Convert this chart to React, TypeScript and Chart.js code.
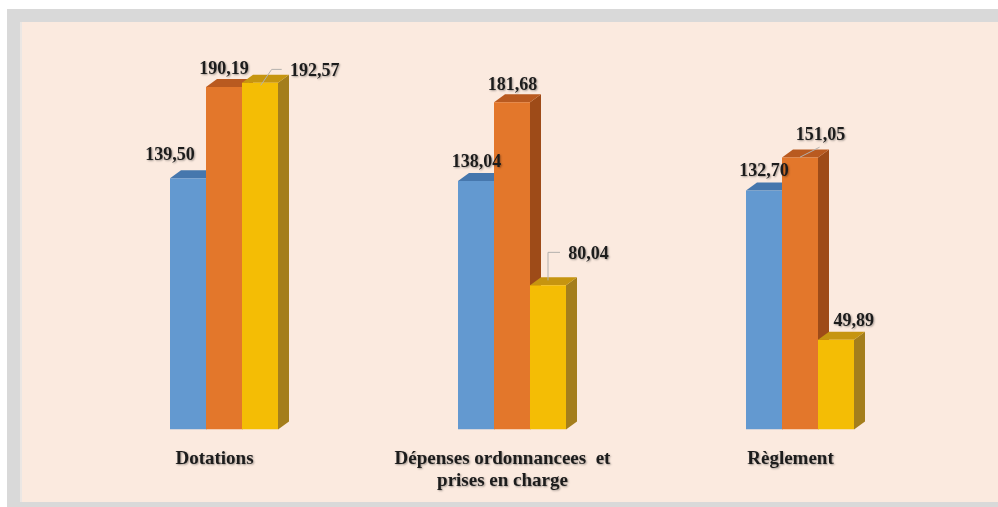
import React, { useEffect, useRef } from "react";
import { Chart, registerables } from "chart.js";

Chart.register(...registerables);

// ---- data ----
const categories: string[][] = [
  ["Dotations"],
  ["Dépenses ordonnancees  et", "prises en charge"],
  ["Règlement"],
];
const serie1 = [139.5, 138.04, 132.7];
const serie2 = [190.19, 181.68, 151.05];
const serie3 = [192.57, 80.04, 49.89];
const seriesNames = ["Série 1", "Série 2", "Série 3"];

// ---- styling ----
const frontColors = ["#6399d0", "#e3772b", "#f4bd05"];
const topColors = ["#4677ad", "#b95a20", "#c69510"];
const sideColors = ["#3d6a9a", "#9e4b18", "#a47e1c"];
const DEPTH_X = 11;
const DEPTH_Y = 8;
const VALUE_FONT = "bold 18px 'Liberation Serif', 'Times New Roman', serif";
const CATEGORY_FONT = "bold 19px 'Liberation Serif', 'Times New Roman', serif";

type Placement = { dx: number; dy: number; leader?: number[][] };
// label centre relative to the top-centre of each bar's front face, [category][series]
const labelPlacement: Placement[][] = [
  [
    { dx: -18, dy: -24 },
    { dx: 0, dy: -18.5 },
    { dx: 54.7, dy: -12.8, leader: [[0.7, 2.7], [11.7, -13.3], [21.7, -13.3]] },
  ],
  [
    { dx: 0.5, dy: -19.7 },
    { dx: 0.5, dy: -18.3 },
    { dx: 40.5, dy: -32, leader: [[0, -5], [0, -33], [12, -33]] },
  ],
  [
    { dx: 0, dy: -20.5 },
    { dx: 20.5, dy: -23.5, leader: [[0, -0.3], [19.6, -10.3]] },
    { dx: 17.8, dy: -19.8 },
  ],
];

const formatValue = (v: number) => v.toFixed(2).replace(".", ",");

const bars3d = {
  id: "bars3d",
  beforeDatasetsDraw(chart: any) {
    const ctx: CanvasRenderingContext2D = chart.ctx;
    const n = chart.data.labels.length;
    ctx.save();
    for (let i = 0; i < n; i++) {
      for (let d = 0; d < chart.data.datasets.length; d++) {
        const el = chart.getDatasetMeta(d).data[i];
        const { x, y, base, width } = el.getProps(["x", "y", "base", "width"], true);
        const l = x - width / 2;
        const r = x + width / 2;
        // right side face
        ctx.fillStyle = sideColors[d];
        ctx.beginPath();
        ctx.moveTo(r, y);
        ctx.lineTo(r + DEPTH_X, y - DEPTH_Y);
        ctx.lineTo(r + DEPTH_X, base - DEPTH_Y);
        ctx.lineTo(r, base);
        ctx.closePath();
        ctx.fill();
        // top face
        ctx.fillStyle = topColors[d];
        ctx.beginPath();
        ctx.moveTo(l, y);
        ctx.lineTo(r, y);
        ctx.lineTo(r + DEPTH_X, y - DEPTH_Y);
        ctx.lineTo(l + DEPTH_X, y - DEPTH_Y);
        ctx.closePath();
        ctx.fill();
      }
    }
    ctx.restore();
  },
  afterDatasetsDraw(chart: any) {
    const ctx: CanvasRenderingContext2D = chart.ctx;
    const n = chart.data.labels.length;
    ctx.save();
    for (let i = 0; i < n; i++) {
      for (let d = 0; d < chart.data.datasets.length; d++) {
        const el = chart.getDatasetMeta(d).data[i];
        const { x, y } = el.getProps(["x", "y"], true);
        const p = labelPlacement[i][d];
        if (p.leader) {
          ctx.strokeStyle = "#b3b0ad";
          ctx.lineWidth = 1;
          ctx.beginPath();
          p.leader.forEach(([lx, ly], k) => {
            if (k === 0) ctx.moveTo(x + lx, y + ly);
            else ctx.lineTo(x + lx, y + ly);
          });
          ctx.stroke();
        }
        ctx.font = VALUE_FONT;
        ctx.textAlign = "center";
        ctx.textBaseline = "middle";
        ctx.shadowColor = "rgba(0,0,0,0.35)";
        ctx.shadowBlur = 2;
        ctx.shadowOffsetX = 1;
        ctx.shadowOffsetY = 1;
        ctx.fillStyle = "#1c1c1c";
        const v = chart.data.datasets[d].data[i];
        ctx.fillText(formatValue(v), x + p.dx, y + p.dy + 1);
        ctx.shadowColor = "transparent";
      }
    }
    // category labels under the bars
    const xScale = chart.scales.x;
    const bottom = chart.chartArea.bottom;
    ctx.font = CATEGORY_FONT;
    ctx.textAlign = "center";
    ctx.textBaseline = "alphabetic";
    ctx.fillStyle = "#1c1c1c";
    ctx.shadowColor = "rgba(0,0,0,0.35)";
    ctx.shadowBlur = 2;
    ctx.shadowOffsetX = 1;
    ctx.shadowOffsetY = 1;
    categories.forEach((lines, i) => {
      const cx = xScale.getPixelForValue(i) - 9.5;
      lines.forEach((line, k) => {
        ctx.fillText(line, cx, bottom + 34.5 + k * 22);
      });
    });
    ctx.restore();
  },
};

export default function App() {
  const canvasRef = useRef<HTMLCanvasElement | null>(null);

  useEffect(() => {
    const canvas = canvasRef.current;
    if (!canvas) return;
    const seriesValues = [serie1, serie2, serie3];
    const chart = new Chart(canvas, {
      type: "bar",
      data: {
        labels: categories.map((c) => c.join(" ")),
        datasets: seriesValues.map((values, d) => ({
          label: seriesNames[d],
          data: values,
          backgroundColor: frontColors[d],
          borderWidth: 0,
          barPercentage: 1,
          categoryPercentage: 0.375,
        })),
      },
      options: {
        responsive: false,
        animation: false,
        devicePixelRatio: 1,
        layout: { padding: { left: 80, right: 54, top: 69.3, bottom: 77.5 } },
        plugins: {
          legend: { display: false },
          title: { display: false },
          tooltip: { enabled: false },
        },
        scales: {
          x: { display: false },
          y: { display: false, min: 0, max: 200 },
        },
      },
      plugins: [bars3d],
    } as any);
    return () => chart.destroy();
  }, []);

  return (
    <div
      style={{
        position: "absolute",
        left: 0,
        top: 0,
        width: 998,
        height: 507,
        background: "#ffffff",
        overflow: "hidden",
      }}
    >
      <div
        style={{
          position: "absolute",
          left: 7,
          top: 9,
          width: 991,
          height: 498,
          background: "#d9d9d9",
        }}
      />
      <div
        style={{
          position: "absolute",
          left: 20,
          top: 22,
          width: 978,
          height: 480,
          background: "#fbeadf",
          borderLeft: "2px solid #ebe7e4",
          boxSizing: "border-box",
        }}
      />
      <canvas
        ref={canvasRef}
        width={998}
        height={507}
        style={{ position: "absolute", left: 0, top: 0, width: 998, height: 507 }}
      />
    </div>
  );
}
